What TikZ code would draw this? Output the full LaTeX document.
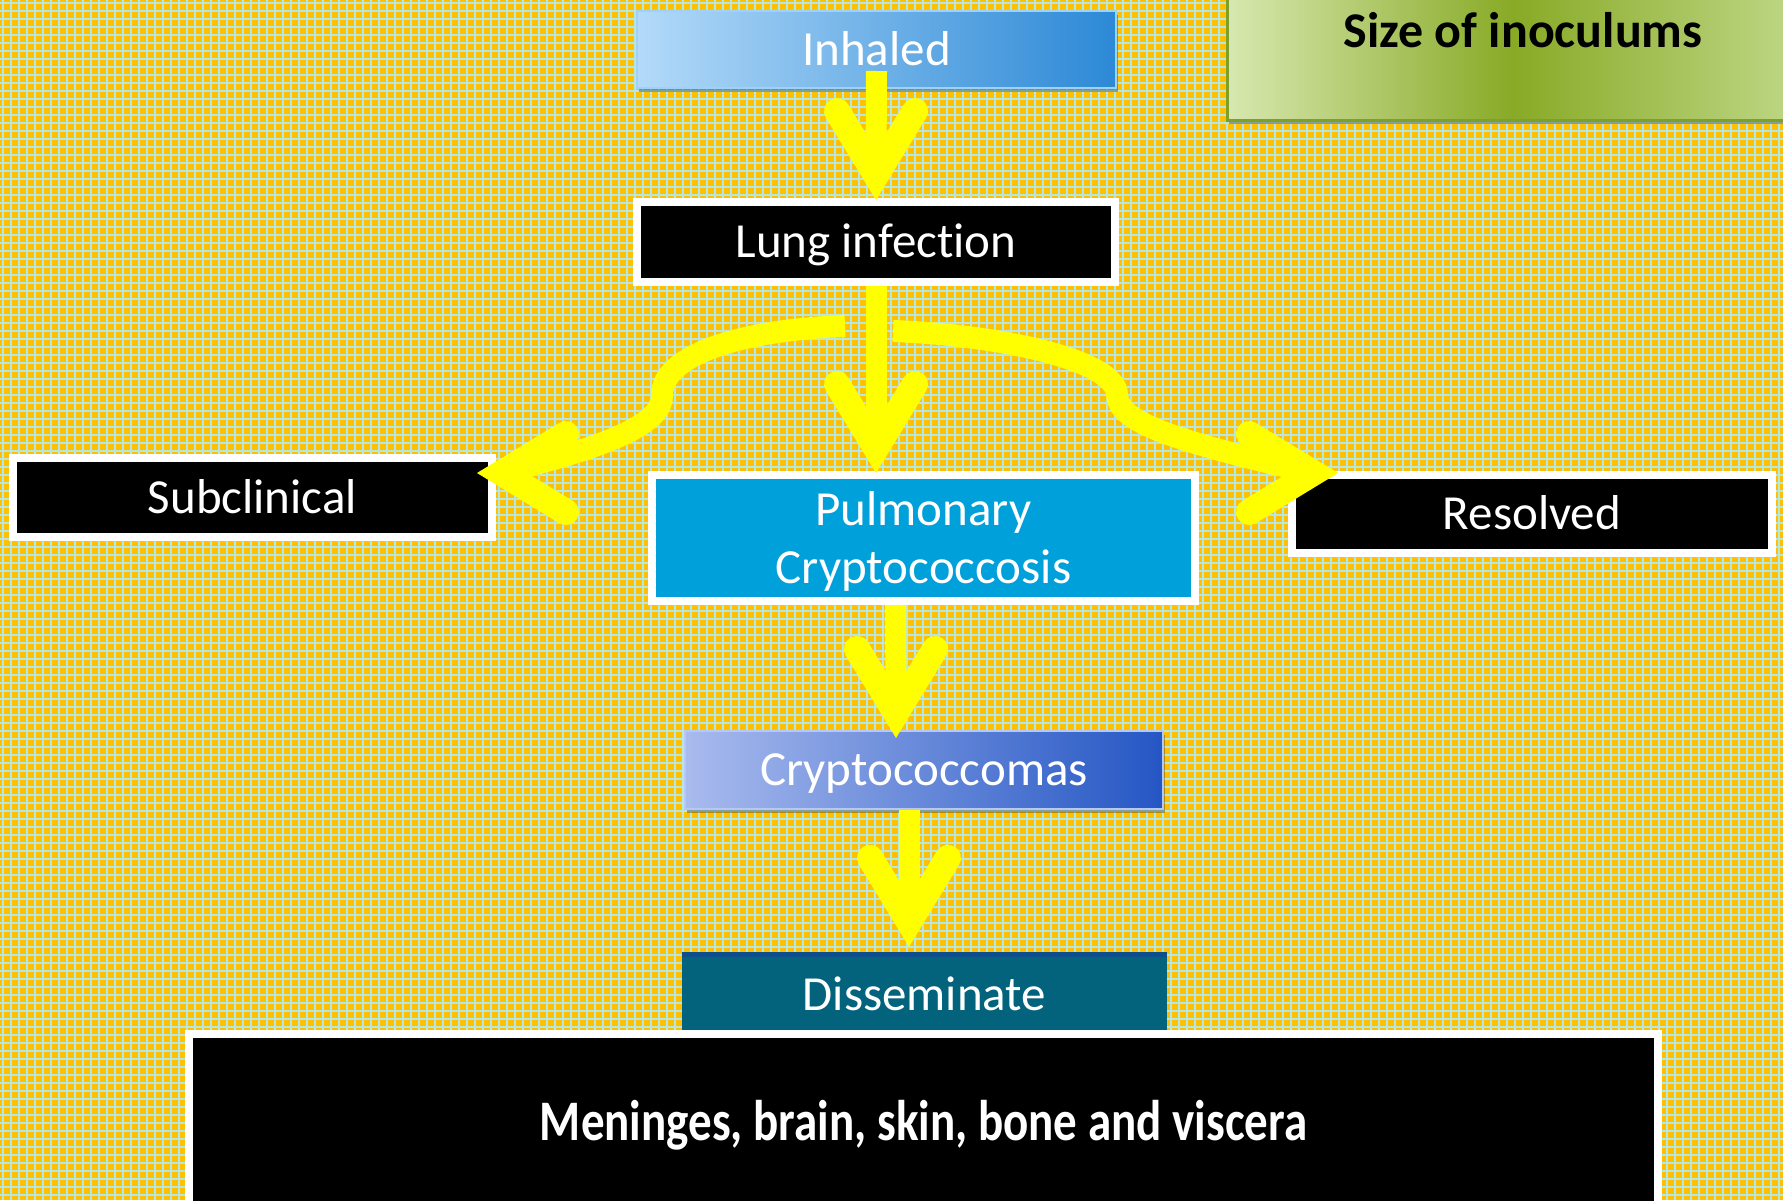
\documentclass[tikz,border=0pt]{standalone}
\usepackage{fontspec}
\usepackage{graphicx}
\setmainfont{Carlito}[RawFeature={-liga}]
\usetikzlibrary{calc,shadows}
\definecolor{bgorange}{HTML}{FFC000}
\definecolor{gridc}{HTML}{B8E6E0}
\definecolor{arrowyellow}{HTML}{FFFF00}
\definecolor{inhL}{HTML}{B3DAF9}
\definecolor{inhR}{HTML}{2C89D6}
\definecolor{inhEdge}{HTML}{9ED3F5}
\definecolor{pulmblue}{HTML}{00A0DB}
\definecolor{cryL}{HTML}{A9BBEE}
\definecolor{cryR}{HTML}{2456C4}
\definecolor{cryEdge}{HTML}{B8C8F4}
\definecolor{dissfill}{HTML}{03627C}
\definecolor{dissedge}{HTML}{0D4F8C}
\definecolor{sizeL}{HTML}{D8E8B0}
\definecolor{sizeM}{HTML}{88AA26}
\definecolor{sizeR}{HTML}{BFD786}
\definecolor{sizeEdge}{HTML}{7F9F2A}
\begin{document}
\begin{tikzpicture}[x=1pt,y=-1pt,
  box/.style={inner sep=0pt, text=white, font=\fontsize{49}{58}\selectfont, align=center},
  one/.style={text height=31.6pt, text depth=0pt},
  wbox/.style={box, draw=white, line width=8pt},
  shaft/.style={draw=arrowyellow, line width=21pt},
  curvearrow/.style={draw=arrowyellow, line width=22pt},
  chev/.pic={\draw[arrowyellow, line width=26pt, line cap=round, line join=miter] (-89,-39) -- (-25,0) -- (-89,39);},
  shade/.style={drop shadow={shadow xshift=2pt,shadow yshift=-4pt,opacity=.3,fill=black}}
]
\clip (0,0) rectangle (1783,1200);
% background
\fill[bgorange] (0,0) rectangle (1783,1200);
\foreach \x in {3,11,...,1783} \draw[gridc, line width=2pt] (\x,0) -- (\x,1200);
\foreach \y in {3,11,...,1200} \draw[gridc, line width=2pt] (0,\y) -- (1783,\y);

% size of inoculums
\node[draw=sizeEdge, line width=3pt, left color=sizeL, right color=sizeR, middle color=sizeM,
      minimum width=573pt, minimum height=140pt, inner sep=0pt, shade] (sizebox) at (1513.5,50) {};
\node[inner sep=0pt, font=\bfseries\fontsize{50}{60}\selectfont, text=black,
      text height=32.2pt, text depth=0pt] (sizetxt) at (1523,31) {Size of inoculums};

% boxes
\node[box, one, draw=inhEdge, line width=2pt, left color=inhL, right color=inhR,
      minimum width=479pt, minimum height=77pt, shade] (inh) at (876.5,49.5) {Inhaled};
\node[wbox, one, fill=black, minimum width=478pt, minimum height=80pt, shade] (lung) at (876,242) {Lung infection};
\node[wbox, one, fill=black, minimum width=479pt, minimum height=79pt, shade] (sub) at (252.5,497.5) {Subclinical};
\node[wbox, one, fill=black, minimum width=480pt, minimum height=78pt, shade] (res) at (1532,514) {Resolved};
\node[wbox, fill=pulmblue, minimum width=543pt, minimum height=126pt, shade] (pulm) at (923.5,538) {};
\node[box, yshift=-3.5pt] (pulmtxt) at (pulm.center) {Pulmonary\\Cryptococcosis};
\node[box, one, draw=cryEdge, line width=2pt, left color=cryL, right color=cryR,
      minimum width=478pt, minimum height=78pt, shade] (crypto) at (924,770) {Cryptococcomas};
\node[box, one, fill=dissfill, minimum width=485pt, minimum height=85pt] (diss) at (924.5,994.5) {Disseminate};
\draw[dissedge, line width=5pt] ($(diss.north west)+(0,2.5)$) -- ($(diss.north east)+(0,2.5)$);

% straight arrows
\draw[shaft] ($(inh.south)+(0,-18)$) -- ($(lung.north)+(0,-28)$);
\pic[rotate=-90] at ($(lung.north)+(0,2)$) {chev};
\draw[shaft] (lung.south) -- ($(pulm.north -| lung.south)+(0,-28)$);
\pic[rotate=-90] at ($(pulm.north -| lung.south)+(0,2)$) {chev};
\draw[shaft] ($(pulm.south)+(-28,0)$) -- ($(crypto.north)+(-28,-20)$);
\pic[rotate=-90] at ($(crypto.north)+(-28,8)$) {chev};
\draw[shaft] ($(crypto.south)+(-15,0)$) -- ($(diss.north)+(-15.5,-33)$);
\pic[rotate=-90] at ($(diss.north)+(-15.5,-5)$) {chev};

% curved arrows
\coordinate (lstart) at ($(lung.south)+(-31,40)$);
\coordinate (lend) at ($(sub.east)+(6,-25)$);
\coordinate (rstart) at ($(lung.south)+(17,45)$);
\coordinate (rend) at ($(res.west)+(25,-41)$);
\draw[curvearrow] (lstart) .. controls (740,330) and (662,355) .. (662,395)
   .. controls (663,422) and (615,445) .. (lend);
\pic[rotate=180] at ($(sub.east)+(-19,-24.5)$) {chev};
\draw[curvearrow] (rstart) .. controls (1000,335) and (1117,360) .. (1117,395)
   .. controls (1119,420) and (1160,438) .. (rend);
\pic at ($(res.west)+(50,-41)$) {chev};

% bottom box
\node[wbox, fill=black, minimum width=1469pt, minimum height=176pt, font=\bfseries\fontsize{47}{56}\selectfont,
      text height=36.9pt, text depth=0pt]
   (organs) at (923.5,1122) {\scalebox{1}[1.22]{Meninges, brain, skin, bone and viscera}};
\end{tikzpicture}
\end{document}
